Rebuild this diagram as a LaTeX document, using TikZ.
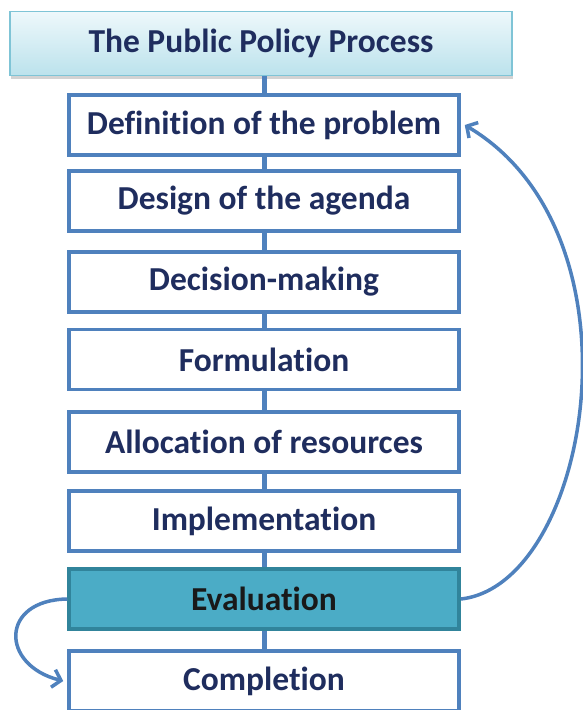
\documentclass[tikz,border=0pt]{standalone}
\usepackage{fontspec}
\setmainfont{Carlito}[Ligatures=NoCommon]
\usetikzlibrary{arrows.meta,shadows}
\definecolor{boxblue}{HTML}{4F81BD}
\definecolor{navy}{HTML}{1F2D5E}
\definecolor{evalfill}{HTML}{4BACC6}
\definecolor{evalline}{HTML}{31849B}
\definecolor{titletop}{HTML}{EEF8FB}
\definecolor{titlebot}{HTML}{BBE2EC}
\definecolor{titleline}{HTML}{7FC4D6}
\begin{document}
\begin{tikzpicture}[x=1pt,y=-1pt,
  stepbox/.style={draw=boxblue, line width=3.5pt, fill=white, minimum width=390pt, minimum height=60pt,
    inner sep=0pt, text=navy, font=\fontsize{33.5}{40}\selectfont\bfseries},
  evalbox/.style={stepbox, fill=evalfill, draw=evalline, text=black!90},
  titlebox/.style={draw=titleline, line width=1.5pt, top color=titletop, bottom color=titlebot,
    minimum width=502pt, minimum height=64pt, inner sep=0pt, text=navy,
    drop shadow={shadow xshift=1pt, shadow yshift=-3pt, opacity=0.35},
    font=\fontsize{33.5}{40}\selectfont\bfseries},
  link/.style={draw=boxblue, line width=5pt},
  loop/.style={draw=boxblue, line width=3.5pt, -{Straight Barb[length=8pt,width=18pt]}}
]
\useasboundingbox (0,0) rectangle (583,710);
\node[titlebox] (title) at (261,43.5) {The Public Policy Process};
\node[stepbox] (def) at (264,125) {Definition of the problem};
\node[stepbox] (design) at (264,201) {Design of the agenda};
\node[stepbox] (decision) at (264,282) {Decision-making};
\node[stepbox] (formul) at (264,359.5) {Formulation};
\node[stepbox] (alloc) at (264,442) {Allocation of resources};
\node[stepbox] (impl) at (264,521) {Implementation};
\node[evalbox] (eval) at (264,599) {Evaluation};
\node[stepbox] (compl) at (264,681) {Completion};
\draw[link] (title.south -| def.north) -- (def.north);
\draw[link] (def.south) -- (design.north);
\draw[link] (design.south) -- (decision.north);
\draw[link] (decision.south) -- (formul.north);
\draw[link] (formul.south) -- (alloc.north);
\draw[link] (alloc.south) -- (impl.north);
\draw[link] (impl.south) -- (eval.north);
\draw[link] (eval.south) -- (compl.north);
\draw[loop] (eval.east) .. controls (590,585) and (650,235) .. ([xshift=4pt]def.east);
\draw[loop] (eval.west) .. controls (0,600) and (0,665) .. ([xshift=-4pt]compl.west);
\end{tikzpicture}
\end{document}
